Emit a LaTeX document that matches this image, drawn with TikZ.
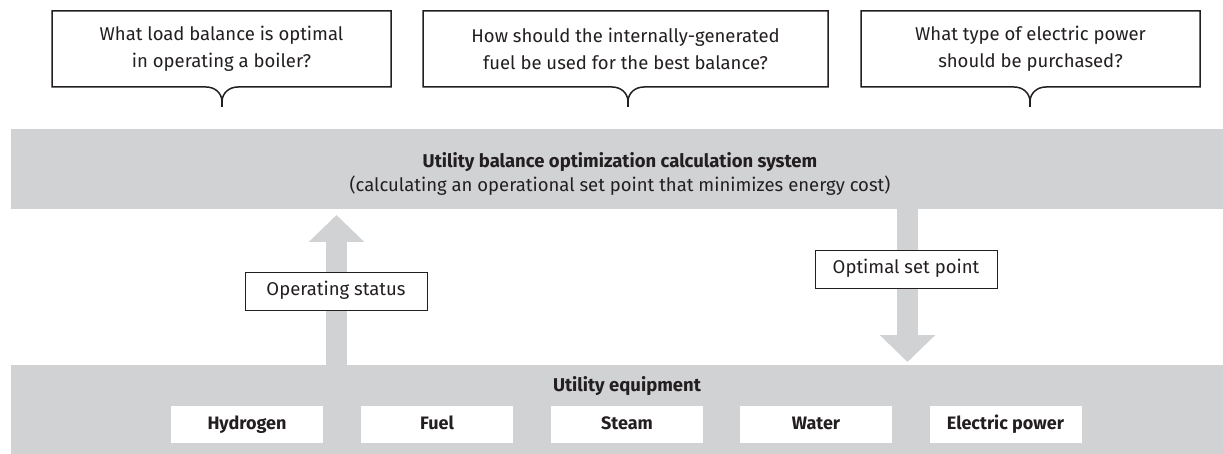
\documentclass[tikz,border=0pt]{standalone}
\usepackage{fontspec}
\setmainfont{Fira Sans}
\usetikzlibrary{arrows.meta}
\definecolor{band}{RGB}{209,210,212}
\definecolor{ink}{RGB}{35,31,32}
\begin{document}
\begin{tikzpicture}[x=1pt,y=-1pt,
  every node/.style={inner sep=0pt, text=ink},
  bandfill/.style={fill=band, draw=none},
  callout/.style={draw=ink, line width=1.5pt, fill=white, line join=miter},
  stem/.style={draw=ink, line width=1.5pt},
  qtext/.style={font=\fontsize{18.5}{27}\selectfont, align=center},
  titletext/.style={font=\fontsize{18.5}{22}\selectfont\bfseries},
  subtext/.style={font=\fontsize{18.5}{22}\selectfont},
  labelbox/.style={draw=ink, line width=0.8pt, fill=white, minimum width=182pt, minimum height=38pt, text height=13pt, text depth=4pt, font=\fontsize{18.5}{22}\selectfont},
  equipbox/.style={fill=white, draw=none, minimum width=152pt, minimum height=37pt, text height=13pt, text depth=4pt, font=\fontsize{18}{21}\selectfont\bfseries},
  fatarrow/.style={draw=band, line width=21pt, -{Triangle[length=27pt,width=54pt]}},
]
\useasboundingbox (0,0) rectangle (1223,454);

% bands
\fill[bandfill] (11,129) rectangle (1223,209);
\fill[bandfill] (11,365) rectangle (1223,454);
\node[titletext] (systitle) at (620,162) {Utility balance optimization calculation system};
\node[subtext] (syssub) at (620,186) {(calculating an operational set point that minimizes energy cost)};
\node[titletext] (equiptitle) at (627,386) {Utility equipment};

% connector arrows
\coordinate (upfrom) at (336.5,365);
\coordinate (upto) at (336.5,215);
\coordinate (downfrom) at (907.5,209);
\coordinate (downto) at (907.5,362);
\draw[fatarrow] (upfrom) -- (upto);
\draw[fatarrow] (downfrom) -- (downto);

\node[labelbox] (opstatus) at (336,291) {Operating status};
\node[labelbox] (optset) at (906,269.5) {Optimal set point};

% equipment boxes
\node[equipbox] (hyd) at (247,424.5) {Hydrogen};
\node[equipbox] (fuel) at (437,424.5) {Fuel};
\node[equipbox] (steam) at (627,424.5) {Steam};
\node[equipbox] (water) at (816,424.5) {Water};
\node[equipbox] (elec) at (1005.5,424.5) {Electric power};

% callouts
\draw[callout] (222,101) .. controls (222.5,93) and (229,87) .. (238,87) -- (391,87) -- (391,11) -- (52,11) -- (52,87) -- (206,87)
  .. controls (215,87) and (221.5,93) .. (222,101) -- cycle;
\draw[stem] (222,100) -- (222,107);
\node[qtext] (q1) at (221.5,49) {What load balance is optimal\\in operating a boiler?};

\draw[callout] (628,101) .. controls (628.5,93) and (635,87) .. (644,87) -- (828,87) -- (828,11) -- (423,11) -- (423,87) -- (612,87)
  .. controls (621,87) and (627.5,93) .. (628,101) -- cycle;
\draw[stem] (628,100) -- (628,107);
\node[qtext] (q2) at (625.5,49) {How should the internally-generated\\fuel be used for the best balance?};

\draw[callout] (1030,101) .. controls (1030.5,93) and (1037,87) .. (1046,87) -- (1200,87) -- (1200,11) -- (861,11) -- (861,87) -- (1014,87)
  .. controls (1023,87) and (1029.5,93) .. (1030,101) -- cycle;
\draw[stem] (1030,100) -- (1030,107);
\node[qtext] (q3) at (1030.5,49) {What type of electric power\\should be purchased?};
\end{tikzpicture}
\end{document}
